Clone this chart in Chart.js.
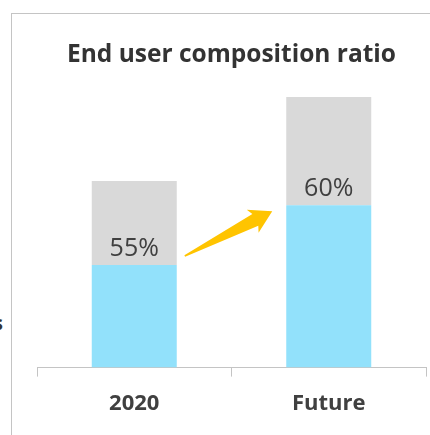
<!DOCTYPE html>
<html>
<head>
<meta charset="utf-8">
<script src="https://cdn.jsdelivr.net/npm/chart.js@4.4.1/dist/chart.umd.min.js"></script>
<style>
  html, body { margin: 0; padding: 0; background: #fff; }
  #wrap { position: relative; width: 430px; height: 435px; overflow: hidden; }
  #frame { position: absolute; left: 11px; top: 13px; right: -2px; bottom: -2px;
           border-top: 1px solid #c4c4c4; border-left: 1px solid #c4c4c4; }
  #stray { position: absolute; left: -7px; top: 309px; font: bold 20px "Open Sans", sans-serif; color: #333; }
  canvas { position: absolute; left: 0; top: 0; }
</style>
</head>
<body>
<div id="wrap">
  <div id="frame"></div>
  <div id="stray">s</div>
  <canvas id="c" width="430" height="435"></canvas>
</div>
<script>
const categories = ["2020", "Future"];
const shareLabels = ["55%", "60%"];
const userShare = [55, 87];     // blue segment
const otherShare = [45, 58];    // gray segment
const chartTitle = "End user composition ratio";

const FONT = '"Open Sans", "Segoe UI", sans-serif';

const labelPlugin = {
  id: 'labelsAndArrow',
  afterDatasetsDraw(chart) {
    const ctx = chart.ctx;
    const meta = chart.getDatasetMeta(0);
    ctx.save();
    ctx.font = '25px ' + FONT;
    ctx.fillStyle = '#404040';
    ctx.textAlign = 'center';
    ctx.textBaseline = 'alphabetic';
    meta.data.forEach((bar, i) => {
      ctx.fillText(shareLabels[i], bar.x, bar.y - 9);
    });
    // arrow
    const b0 = meta.data[0], b1 = meta.data[1];
    const tx = b0.x + b0.width / 2 + 8, ty = b0.y - 9;
    const hx = b1.x - b1.width / 2 - 14, hy = b1.y + 6;
    const dx = hx - tx, dy = hy - ty;
    const L = Math.sqrt(dx * dx + dy * dy);
    const ang = Math.atan2(dy, dx);
    ctx.translate(tx, ty);
    ctx.rotate(ang);
    ctx.beginPath();
    ctx.moveTo(0, 0.8);
    ctx.lineTo(L - 19, 6.5);
    ctx.lineTo(L - 22, 13);
    ctx.lineTo(L, 0);
    ctx.lineTo(L - 22, -13);
    ctx.lineTo(L - 19, -6.5);
    ctx.lineTo(0, -0.8);
    ctx.closePath();
    ctx.fillStyle = '#FFC400';
    ctx.fill();
    ctx.restore();
  }
};

new Chart(document.getElementById('c'), {
  type: 'bar',
  data: {
    labels: categories,
    datasets: [
      { data: userShare, backgroundColor: '#92E1FB', borderWidth: 0, barPercentage: 0.437, categoryPercentage: 1 },
      { data: otherShare, backgroundColor: '#D9D9D9', borderWidth: 0, barPercentage: 0.437, categoryPercentage: 1 }
    ]
  },
  options: {
    responsive: false,
    animation: false,
    layout: { padding: { left: 37, right: 4, top: 0, bottom: 4 } },
    plugins: {
      legend: { display: false },
      tooltip: { enabled: false },
      title: {
        display: true,
        text: chartTitle,
        color: '#333333',
        font: { family: FONT, size: 24.5, weight: 'bold', lineHeight: 1.2 },
        padding: { top: 40, bottom: 27.6 }
      }
    },
    scales: {
      x: {
        stacked: true,
        grid: { display: true, drawOnChartArea: false, drawTicks: true, tickLength: 9, color: '#c4c4c4', offset: true },
        border: { display: true, color: '#c4c4c4', width: 1 },
        ticks: { color: '#404040', padding: 14, font: { family: FONT, size: 22, weight: 'bold', lineHeight: 1.2 } }
      },
      y: {
        stacked: true,
        display: false,
        min: 0,
        max: 145
      }
    }
  },
  plugins: [labelPlugin]
});
</script>
</body>
</html>
